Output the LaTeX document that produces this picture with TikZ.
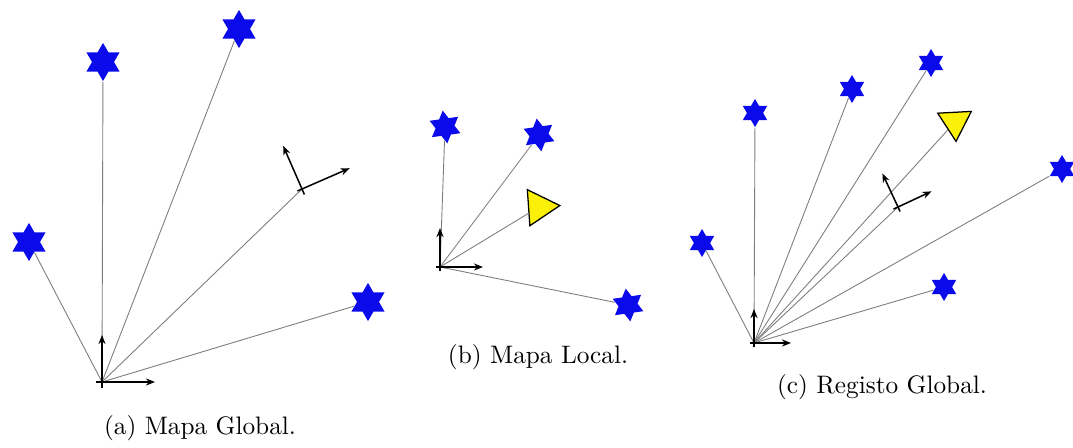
\documentclass[tikz,border=0pt]{standalone}
\usepackage{tikz}
\usetikzlibrary{shapes.geometric,arrows.meta}
\definecolor{landblue}{RGB}{10,10,235}
\definecolor{robotyellow}{RGB}{250,240,10}
\definecolor{raygray}{RGB}{125,125,125}

\begin{document}
\begin{tikzpicture}[x=0.139mm, y=0.139mm,
  landmark/.style={star, star points=6, star point ratio=1.73,
                   fill=landblue, inner sep=0pt, minimum size=#1},
  robot/.style={regular polygon, regular polygon sides=3, draw=black,
                line width=0.5pt, fill=robotyellow, inner sep=0pt},
  ray/.style={draw=raygray, line width=0.35pt},
  axisarrow/.style={-{Stealth[length=3.6pt,width=2.8pt]}, line width=0.6pt},
  caption/.style={font=\normalsize}
]
\useasboundingbox (0,0) rectangle (1073,447);

% (a) global map
\coordinate (aO) at (102,65);
\coordinate (aP) at (302,258);
\node[landmark=5.3mm] (aS1) at (29,205) {};
\node[landmark=5.3mm] (aS2) at (103,385) {};
\node[landmark=5.3mm] (aS3) at (239,418) {};
\node[landmark=5.3mm] (aS4) at (368,145) {};
\draw[ray] (aO) -- (aS1);
\draw[ray] (aO) -- (aS2);
\draw[ray] (aO) -- (aS3);
\draw[ray] (aO) -- (aP);
\draw[ray] (aO) -- (aS4);
\coordinate (aX) at (155,65);
\coordinate (aY) at (102,112);
\draw[axisarrow, line width=0.85pt] ([xshift=-0.8mm]aO) -- (aX);
\draw[axisarrow, line width=0.85pt] ([yshift=-0.8mm]aO) -- (aY);
\coordinate (aPx) at ([shift={(23.6:52)}]aP);
\coordinate (aPy) at ([shift={(113.6:47)}]aP);
\draw[axisarrow] ([shift={(203.6:5)}]aP) -- (aPx);
\draw[axisarrow] ([shift={(293.6:6)}]aP) -- (aPy);
\node[caption] (capA) at (200,19) {(a) Mapa Global.};

% (b) local map
\coordinate (bO) at (440,180);
\node[landmark=4.6mm, rotate=8] (bS1) at (445,320) {};
\node[landmark=4.6mm, rotate=8] (bS2) at (539,312) {};
\node[landmark=4.6mm, rotate=8] (bS3) at (628,142) {};
\node[robot, minimum size=5.8mm, shape border rotate=-86] (bT) at (539,240) {};
\draw[ray] (bO) -- (bS1);
\draw[ray] (bO) -- (bS2);
\draw[ray] (bO) -- (bT);
\draw[ray] (bO) -- (bS3);
\coordinate (bX) at (483,180);
\coordinate (bY) at (440,219);
\draw[axisarrow] ([xshift=-0.6mm]bO) -- (bX);
\draw[axisarrow] ([yshift=-0.6mm]bO) -- (bY);
\node[caption] (capB) at (538,90) {(b) Mapa Local.};

% (c) global registration
\coordinate (cO) at (754,104);
\coordinate (cP) at (898,240);
\node[landmark=3.9mm] (cS1) at (702,204) {};
\node[landmark=3.9mm] (cS2) at (755,334) {};
\node[landmark=3.9mm] (cS3) at (852,358) {};
\node[landmark=3.9mm] (cS4) at (931,384) {};
\node[landmark=3.9mm] (cS5) at (1062,278) {};
\node[landmark=3.9mm] (cS6) at (944,160) {};
\node[robot, minimum size=5.4mm, shape border rotate=183] (cT) at (955,325) {};
\draw[ray] (cO) -- (cS1);
\draw[ray] (cO) -- (cS2);
\draw[ray] (cO) -- (cS3);
\draw[ray] (cO) -- (cS4);
\draw[ray] (cO) -- (cT);
\draw[ray] (cO) -- (cP);
\draw[ray] (cO) -- (cS5);
\draw[ray] (cO) -- (cS6);
\coordinate (cX) at (791,104);
\coordinate (cY) at (754,138);
\draw[axisarrow] ([xshift=-0.6mm]cO) -- (cX);
\draw[axisarrow] ([yshift=-0.6mm]cO) -- (cY);
\coordinate (cPx) at ([shift={(25:37)}]cP);
\coordinate (cPy) at ([shift={(115:37)}]cP);
\draw[axisarrow] ([shift={(205:5)}]cP) -- (cPx);
\draw[axisarrow] ([shift={(295:5)}]cP) -- (cPy);
\node[caption] (capC) at (882,60) {(c) Registo Global.};
\end{tikzpicture}
\end{document}
